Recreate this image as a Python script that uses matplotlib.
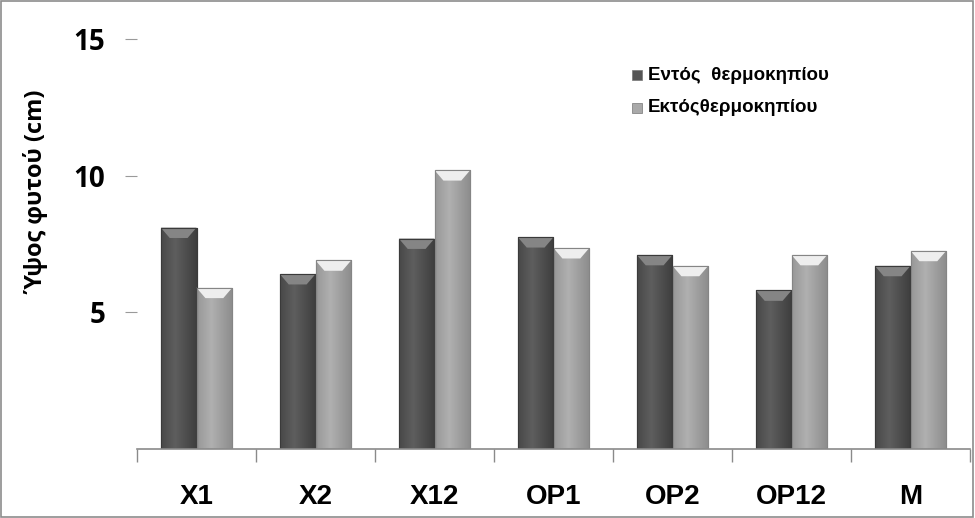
import numpy as np
import matplotlib
matplotlib.use('Agg')
import matplotlib.pyplot as plt
from matplotlib.patches import Polygon, Rectangle

categories = ['X1', 'X2', 'X12', 'OP1', 'OP2', 'OP12', 'M']
inside = [8.1, 6.4, 7.7, 7.75, 7.1, 5.8, 6.7]     # Εντός θερμοκηπίου
outside = [5.9, 6.9, 10.2, 7.35, 6.7, 7.1, 7.25]  # Εκτός θερμοκηπίου
series_names = ['Εντός  θερμοκηπίου', 'Εκτόςθερμοκηπίου']
yticks = [5, 10, 15]

fig = plt.figure(figsize=(9.75, 5.18), dpi=100)
ax = fig.add_axes([137/975, 1-449/518, 833/975, 410/518])

x = np.arange(len(categories))
w = 0.3
b1 = ax.bar(x - w/2, inside, w, color='#555555', edgecolor='#3a3a3a', linewidth=0.8, zorder=2)
b2 = ax.bar(x + w/2, outside, w, color='#a9a9a9', edgecolor='#858585', linewidth=0.8, zorder=2)

# shaded look: horizontal gradient + bevelled top
def shade(bars, edge, mid, cap_top, cap_bot):
    grad = np.linspace(0, 1, 60)
    prof = 1 - np.abs(grad - 0.4) / 0.6
    c0 = np.array(matplotlib.colors.to_rgb(edge))
    c1 = np.array(matplotlib.colors.to_rgb(mid))
    img = (c0[None, :] + (c1 - c0)[None, :] * prof[:, None])[None, :, :]
    for p in bars:
        x0, wd, h = p.get_x(), p.get_width(), p.get_height()
        im = ax.imshow(img, extent=[x0, x0 + wd, 0, h], aspect='auto', zorder=2.1)
        im.set_clip_path(p)
        ch = 0.38
        inset = wd * 0.25
        ax.add_patch(Polygon([[x0, h], [x0 + wd, h], [x0 + wd - inset, h - ch], [x0 + inset, h - ch]],
                             closed=True, facecolor=cap_top, edgecolor='none', zorder=2.2))
        ax.add_patch(Rectangle((x0, 0), wd, h, fill=False, edgecolor=p.get_edgecolor(), linewidth=0.8, zorder=2.3))

shade(b1, '#3e3e3e', '#5e5e5e', '#858585', '#555555')
shade(b2, '#8c8c8c', '#b0b0b0', '#eeeeee', '#aaaaaa')

ax.set_xlim(-0.5, len(categories) - 0.5)
ax.set_ylim(0, 15)

for s in ['top', 'right', 'left']:
    ax.spines[s].set_visible(False)
ax.spines['bottom'].set_color('#8a8a8a')
ax.spines['bottom'].set_linewidth(1.2)

ax.set_yticks(yticks)
ax.set_yticklabels([str(t) for t in yticks], fontsize=20, fontweight='bold', family='Open Sans')
ax.tick_params(axis='y', length=9, color='#9a9a9a', pad=14)

ax.set_xticks(np.arange(len(categories) + 1) - 0.5)
ax.set_xticklabels([])
ax.tick_params(axis='x', length=9, color='#8a8a8a', width=1)
for i, c in enumerate(categories):
    ax.text(i, -1.75, c, ha='center', va='center', fontsize=20, fontweight='bold',
            family='Liberation Sans')

fig.text(37/975, 1 - 192/518, 'Ύψος φυτού (cm)', rotation=90, ha='center', va='center',
         fontsize=17, fontweight='bold', family='Open Sans')

# legend
leg_y = [75, 108]
cols = ['#555555', '#a9a9a9']
for name, yy, col in zip(series_names, leg_y, cols):
    fig.patches.append(Rectangle((632/975, 1 - (yy + 5)/518), 10/975, 10/518, transform=fig.transFigure,
                                 facecolor=col, edgecolor='#777777', linewidth=0.5))
    fig.text(648/975, 1 - yy/518, name, ha='left', va='center', fontsize=13.5, fontweight='bold',
             family='Liberation Sans')

fig.patches.append(Rectangle((0.001, 0.002), 0.997, 0.996, transform=fig.transFigure,
                             fill=False, edgecolor='#8c8c8c', linewidth=1.2))

fig.savefig('out.png', dpi=100)
